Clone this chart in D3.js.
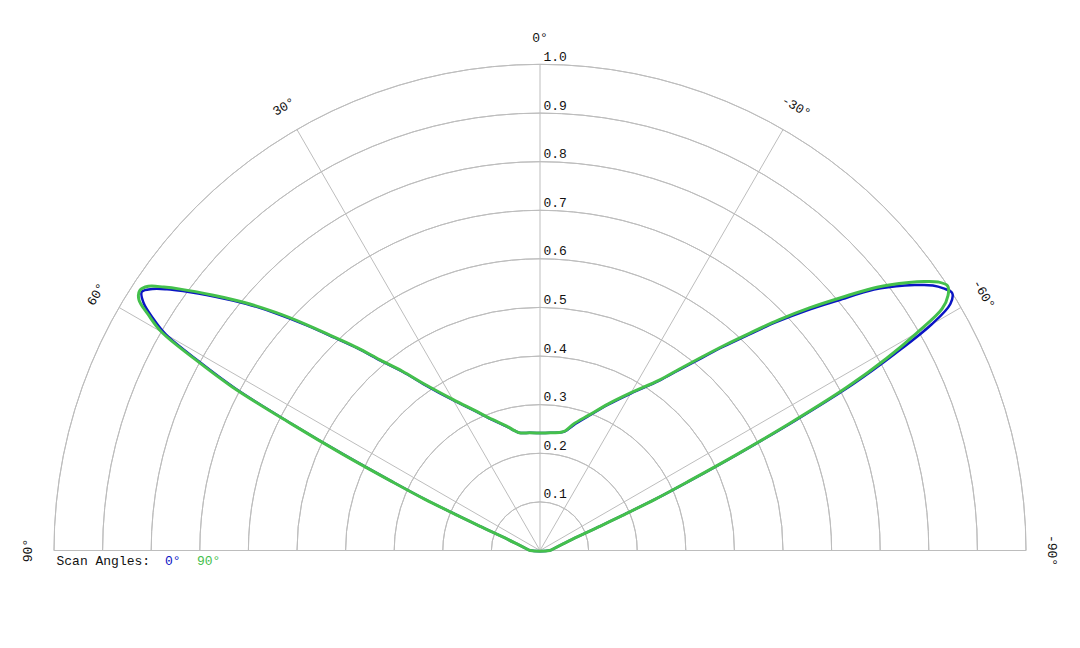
<!DOCTYPE html>
<html>
<head>
<meta charset="utf-8">
<script src="https://cdn.jsdelivr.net/npm/d3@7"></script>
<style>
  html, body { margin:0; padding:0; background:#fff; }
  svg { display:block; font-family:"Liberation Mono", "DejaVu Sans Mono", monospace; }
</style>
</head>
<body>
<svg width="1080" height="648"></svg>
<script>
// angles in degrees, positive = left of the 0° axis
const angles = [-90,-80,-75,-71,-68,-67,-66,-65,-64,-63,-62,-61,-60,-59,-58,-57,-56,-55,-54,-52,
  -50,-48,-46,-44,-42,-40,-37.5,-35,-30,-25,-20,-15,-12,-10,-5,0,5,10,12,15,
  20,25,30,35,37.5,40,42,44,46,48,50,52,54,55,56,57,58,59,60,61,
  62,63,64,65,66,67,68,71,75,80,90]

const scan0 = [0.02,0.032,0.046,0.07,0.134,0.18,0.262,0.345,0.455,0.59,0.73,0.835,0.93,0.985,1.0,0.99,0.975,0.952,0.928,0.872,
  0.80,0.738,0.677,0.617,0.565,0.517,0.467,0.426,0.373,0.331,0.295,0.267,0.251,0.247,0.243,0.242,0.243,0.246,0.252,0.264,
  0.286,0.317,0.357,0.418,0.463,0.51,0.559,0.609,0.667,0.728,0.79,0.848,0.908,0.937,0.962,0.977,0.962,0.93,0.889,0.803,
  0.71,0.57,0.445,0.337,0.258,0.18,0.134,0.07,0.046,0.032,0.02]

const scan90 = [0.02,0.032,0.046,0.07,0.134,0.18,0.26,0.34,0.45,0.58,0.715,0.815,0.895,0.965,0.99,1.0,0.988,0.965,0.938,0.88,
  0.81,0.746,0.683,0.622,0.569,0.521,0.47,0.428,0.375,0.333,0.297,0.27,0.252,0.247,0.243,0.242,0.243,0.246,0.252,0.265,
  0.287,0.318,0.359,0.42,0.465,0.512,0.561,0.611,0.67,0.732,0.794,0.853,0.915,0.945,0.972,0.982,0.973,0.939,0.899,0.812,
  0.718,0.575,0.45,0.34,0.26,0.18,0.134,0.07,0.046,0.032,0.02]

const ringValues = [0.1,0.2,0.3,0.4,0.5,0.6,0.7,0.8,0.9,1.0]
const spokeAngles = [-90,-60,-30,0,30,60,90]
const scanNames = ["0°","90°"]
const scanColors = ["#0a14c4","#44c04c"]

const svg = d3.select("svg")
const cx = 540, cy = 550.5, R = 486

const r = d3.scaleLinear().domain([0,1]).range([0,R])
const a = d3.scaleLinear().domain([-90,90]).range([Math.PI/2,-Math.PI/2])

const g = svg.append("g").attr("transform",`translate(${cx},${cy})`)

// rings
const arc = d3.arc().startAngle(-Math.PI/2).endAngle(Math.PI/2).innerRadius(d=>r(d)).outerRadius(d=>r(d))
g.selectAll(".ring").data(ringValues).enter().append("path")
    .attr("class","ring")
    .attr("d", d=>arc(d))
    .attr("fill","none")
    .attr("stroke","#bdbdbd")
    .attr("stroke-width",1)

// spokes
g.selectAll(".spoke").data(spokeAngles).enter().append("line")
    .attr("class","spoke")
    .attr("x1",0).attr("y1",0)
    .attr("x2",d=>r(1)*Math.sin(a(d)))
    .attr("y2",d=>-r(1)*Math.cos(a(d)))
    .attr("stroke","#bdbdbd")
    .attr("stroke-width",1)

// ring labels
g.selectAll(".rlabel").data(ringValues).enter().append("text")
    .attr("class","rlabel")
    .attr("x",3.5)
    .attr("y",d=>-r(d)-3.5)
    .attr("fill","#111")
    .style("font-size","13px")
    .text(d=>d3.format(".1f")(d))

// angle labels
g.selectAll(".alabel").data(spokeAngles).enter().append("text")
    .attr("class","alabel")
    .attr("transform",d=>{
        const rr = r(1)+27
        const x = rr*Math.sin(a(d)), y = -rr*Math.cos(a(d))
        return `translate(${x},${y}) rotate(${-d})`
    })
    .attr("text-anchor","middle")
    .attr("dy","0.35em")
    .attr("fill","#111")
    .style("font-size","13px")
    .text(d=>`${d}°`)

// curves
const line = d3.lineRadial()
    .angle(d=>a(d[0]))
    .radius(d=>r(d[1]))
    .curve(d3.curveCatmullRomClosed.alpha(0.5))

const series = [scan0, scan90]
series.forEach((vals,i)=>{
    g.append("path")
        .datum(angles.map((ang,j)=>[ang, vals[j]]))
        .attr("d", line)
        .attr("fill","none")
        .attr("stroke", scanColors[i])
        .attr("stroke-width", i === 0 ? 2.5 : 3)
        .attr("stroke-linejoin","round")
})

// legend
const legend = svg.append("g").style("font-size","13px")
legend.append("text").attr("x",56.5).attr("y",564.5).attr("fill","#111").text("Scan Angles:")
legend.selectAll(".lg").data(scanNames).enter().append("text")
    .attr("class","lg")
    .attr("x",(d,i)=>[165,197][i])
    .attr("y",564.5)
    .attr("fill",(d,i)=>scanColors[i])
    .text(d=>d)
</script>
</body>
</html>
